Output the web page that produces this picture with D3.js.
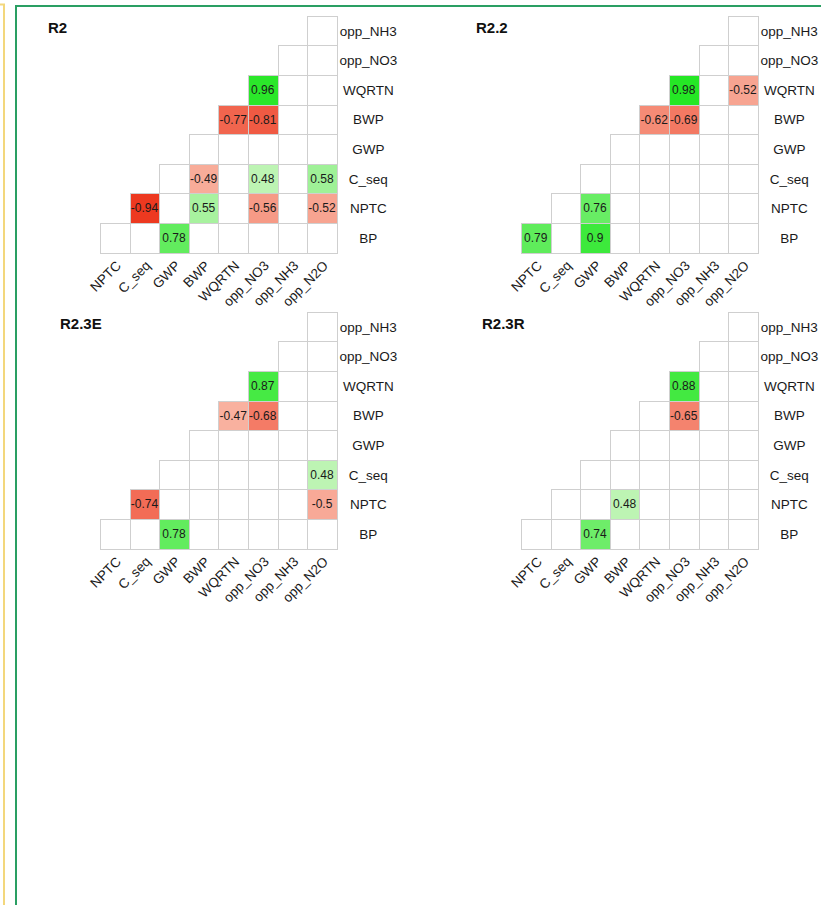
<!DOCTYPE html>
<html>
<head>
<meta charset="utf-8">
<script src="https://cdn.jsdelivr.net/npm/d3@7"></script>
<style>
  html, body { margin: 0; padding: 0; background: #ffffff; }
  svg { display: block; font-family: "Liberation Sans", Arial, sans-serif; }
</style>
</head>
<body>
<svg id="chart" width="821" height="905"></svg>
<script>
// ---- data ----
const rowLabels = ["opp_NH3", "opp_NO3", "WQRTN", "BWP", "GWP", "C_seq", "NPTC", "BP"]; // top to bottom
const colLabels = ["NPTC", "C_seq", "GWP", "BWP", "WQRTN", "opp_NO3", "opp_NH3", "opp_N2O"];
const panelTitles = ["R2", "R2.2", "R2.3E", "R2.3R"];
const _ = null;
const valuesR2 = [
  [_, _, _, _, _, _, _, _],
  [_, _, _, _, _, _, _, _],
  [_, _, _, _, _, 0.96, _, _],
  [_, _, _, _, -0.77, -0.81, _, _],
  [_, _, _, _, _, _, _, _],
  [_, _, _, -0.49, _, 0.48, _, 0.58],
  [_, -0.94, _, 0.55, _, -0.56, _, -0.52],
  [_, _, 0.78, _, _, _, _, _]
];
const valuesR22 = [
  [_, _, _, _, _, _, _, _],
  [_, _, _, _, _, _, _, _],
  [_, _, _, _, _, 0.98, _, -0.52],
  [_, _, _, _, -0.62, -0.69, _, _],
  [_, _, _, _, _, _, _, _],
  [_, _, _, _, _, _, _, _],
  [_, _, 0.76, _, _, _, _, _],
  [0.79, _, 0.9, _, _, _, _, _]
];
const valuesR23E = [
  [_, _, _, _, _, _, _, _],
  [_, _, _, _, _, _, _, _],
  [_, _, _, _, _, 0.87, _, _],
  [_, _, _, _, -0.47, -0.68, _, _],
  [_, _, _, _, _, _, _, _],
  [_, _, _, _, _, _, _, 0.48],
  [_, -0.74, _, _, _, _, _, -0.5],
  [_, _, 0.78, _, _, _, _, _]
];
const valuesR23R = [
  [_, _, _, _, _, _, _, _],
  [_, _, _, _, _, _, _, _],
  [_, _, _, _, _, 0.88, _, _],
  [_, _, _, _, _, -0.65, _, _],
  [_, _, _, _, _, _, _, _],
  [_, _, _, _, _, _, _, _],
  [_, _, _, 0.48, _, _, _, _],
  [_, _, 0.74, _, _, _, _, _]
];
const panelValues = [valuesR2, valuesR22, valuesR23E, valuesR23R];

// ---- layout ----
const svg = d3.select("#chart");
const panels = [
  { ox: 0,   oy: 0,   titleX: 48 },
  { ox: 421, oy: 0,   titleX: 476 },
  { ox: 0,   oy: 296, titleX: 60 },
  { ox: 421, oy: 296, titleX: 482 }
];
const gridX0 = 100, gridY0 = 15.7, cell = 29.6;

const color = d3.scaleLinear()
  .domain([-1, -0.45, 0, 0.45, 1])
  .range(["#ec2a10", "#f9b6a4", "#ffffff", "#c6f5bc", "#1fe61f"])
  .interpolate(d3.interpolateRgb);

// frame lines
svg.append("path")
  .attr("d", "M0,4.5 H4 V905")
  .attr("fill", "none").attr("stroke", "#f3d77c").attr("stroke-width", 2);
svg.append("path")
  .attr("d", "M16,905 V6 H821")
  .attr("fill", "none").attr("stroke", "#2a9f63").attr("stroke-width", 2);

panels.forEach((p, pi) => {
  const vals = panelValues[pi];
  const x = d3.scaleBand().domain(colLabels)
    .range([p.ox + gridX0, p.ox + gridX0 + cell * colLabels.length]).padding(0);
  const y = d3.scaleBand().domain(rowLabels)
    .range([p.oy + gridY0, p.oy + gridY0 + cell * rowLabels.length]).padding(0);
  const g = svg.append("g");

  const cells = [];
  rowLabels.forEach((r, i) => {
    colLabels.forEach((c, j) => {
      if (j >= rowLabels.length - 1 - i) cells.push({ r, c, v: vals[i][j] });
    });
  });

  const px = v => Math.round(v);
  g.selectAll("rect.cell").data(cells).join("rect")
    .attr("class", "cell")
    .attr("x", d => px(x(d.c)) + 0.5)
    .attr("y", d => px(y(d.r)) + 0.5)
    .attr("width", d => px(x(d.c) + x.bandwidth()) - px(x(d.c)))
    .attr("height", d => px(y(d.r) + y.bandwidth()) - px(y(d.r)))
    .attr("fill", d => d.v === null ? "#ffffff" : color(d.v))
    .attr("stroke", "#cfcfcf")
    .attr("stroke-width", 1);

  g.selectAll("text.val").data(cells.filter(d => d.v !== null)).join("text")
    .attr("class", "val")
    .attr("x", d => x(d.c) + x.bandwidth() / 2)
    .attr("y", d => y(d.r) + y.bandwidth() / 2 + 4.3)
    .attr("text-anchor", "middle")
    .attr("font-size", 12)
    .attr("fill", "#1a1a1a")
    .text(d => String(d.v));

  // row labels (right)
  const rightEdge = x.range()[1];
  g.selectAll("text.rowlab").data(rowLabels).join("text")
    .attr("class", "rowlab")
    .attr("x", rightEdge + 31.5)
    .attr("y", d => y(d) + y.bandwidth() / 2 + 5)
    .attr("text-anchor", "middle")
    .attr("font-size", 13.5)
    .attr("fill", "#1a1a1a")
    .text(d => d);

  // column labels (bottom, rotated)
  const bottom = y.range()[1];
  g.selectAll("text.collab").data(colLabels).join("text")
    .attr("class", "collab")
    .attr("text-anchor", "end")
    .attr("font-size", 13.5)
    .attr("fill", "#1a1a1a")
    .attr("transform", d => `translate(${x(d) + x.bandwidth() / 2 + 7},${bottom + 14}) rotate(-45)`)
    .text(d => d);

  // title
  g.append("text")
    .attr("x", p.titleX)
    .attr("y", p.oy + gridY0 + 17.5)
    .attr("font-size", 15)
    .attr("font-weight", "bold")
    .attr("fill", "#111111")
    .text(panelTitles[pi]);
});
</script>
</body>
</html>
